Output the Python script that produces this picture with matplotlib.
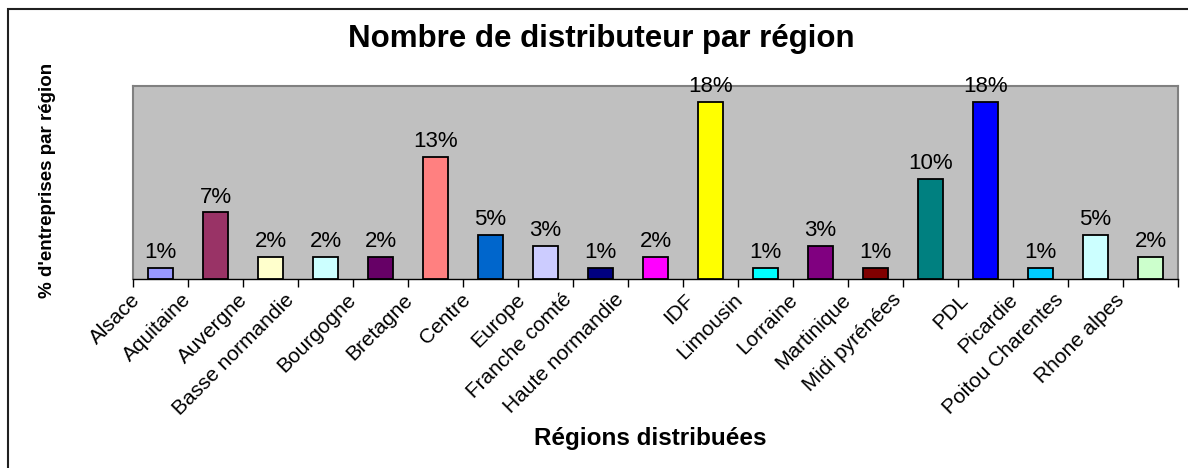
import numpy as np
import matplotlib
matplotlib.use("Agg")
from matplotlib import pyplot as plt
from matplotlib.patches import Rectangle
from matplotlib.transforms import ScaledTranslation

plt.rcParams['font.family'] = ['Liberation Sans', 'DejaVu Sans']

# ==== Données ====
regions = ["Alsace", "Aquitaine", "Auvergne", "Basse normandie", "Bourgogne",
           "Bretagne", "Centre", "Europe", "Franche comté", "Haute normandie",
           "IDF", "Limousin", "Lorraine", "Martinique", "Midi pyrénées",
           "PDL", "Picardie", "Poitou Charentes", "Rhone alpes"]
nb_distributeurs = [1, 6, 2, 2, 2, 11, 4, 3, 1, 2, 16, 1, 3, 1, 9, 16, 1, 4, 2]
couleurs = ["#9999FF", "#993366", "#FFFFCC", "#CCFFFF", "#660066",
            "#FF8080", "#0066CC", "#CCCCFF", "#000080", "#FF00FF",
            "#FFFF00", "#00FFFF", "#800080", "#800000", "#008080",
            "#0000FF", "#00CCFF", "#CCFFFF", "#CCFFCC"]

pct = np.array(nb_distributeurs) / sum(nb_distributeurs) * 100
x = np.arange(len(regions))

fig = plt.figure(figsize=(11.88, 4.68), dpi=100)
ax = fig.add_axes([0.112, 0.4038, 0.8796, 0.4124])
ax.set_facecolor("#C0C0C0")

ax.bar(x, pct, width=0.44, color=couleurs, edgecolor="black", linewidth=1.3, zorder=3)
for xi, p in zip(x, pct):
    ax.annotate(f"{p:.0f}%", (xi, p), xytext=(0, 3.5), textcoords="offset points",
                ha="center", va="bottom", fontsize=16, zorder=4)

ax.set_xlim(-0.5, len(regions) - 0.5)
ax.set_ylim(0, 20)
ax.set_yticks([])

# ticks aux frontières (style Excel), libellés au centre
ax.set_xticks(np.arange(len(regions) + 1) - 0.5)
ax.set_xticklabels([])
ax.tick_params(axis="x", which="major", direction="out", length=6, width=1, color="black")
ax.set_xticks(x, minor=True)
ax.set_xticklabels(regions, minor=True, rotation=45, ha="right", va="top",
                   rotation_mode="anchor", fontsize=15)
ax.tick_params(axis="x", which="minor", length=0, pad=8)
# Excel décale les libellés longs un peu plus vers la gauche
for lab in ax.get_xticklabels(minor=True):
    dx = -(23 + 1.2 * len(lab.get_text())) / 100
    lab.set_transform(lab.get_transform() + ScaledTranslation(dx, 0, fig.dpi_scale_trans))

for side in ["top", "left", "right"]:
    ax.spines[side].set_color("#808080")
    ax.spines[side].set_linewidth(1.5)
ax.spines["bottom"].set_color("black")
ax.spines["bottom"].set_linewidth(1)

fig.text(0.506, 0.917, "Nombre de distributeur par région", ha="center", va="center",
         fontsize=22.5, fontweight="bold")
fig.text(0.04, 0.615, "% d'entreprises par région", rotation=90, ha="center", va="center",
         fontsize=13.5, fontweight="bold")
fig.text(0.547, 0.064, "Régions distribuées", ha="center", va="center",
         fontsize=17.5, fontweight="bold")

# cadre du graphique
fig.patches.append(Rectangle((7.5 / 1188, -0.1), 1.2, 1 - 9 / 468 + 0.1, transform=fig.transFigure,
                             fill=False, edgecolor="#202020", linewidth=1.5))

fig.savefig("out.png", dpi=100)
